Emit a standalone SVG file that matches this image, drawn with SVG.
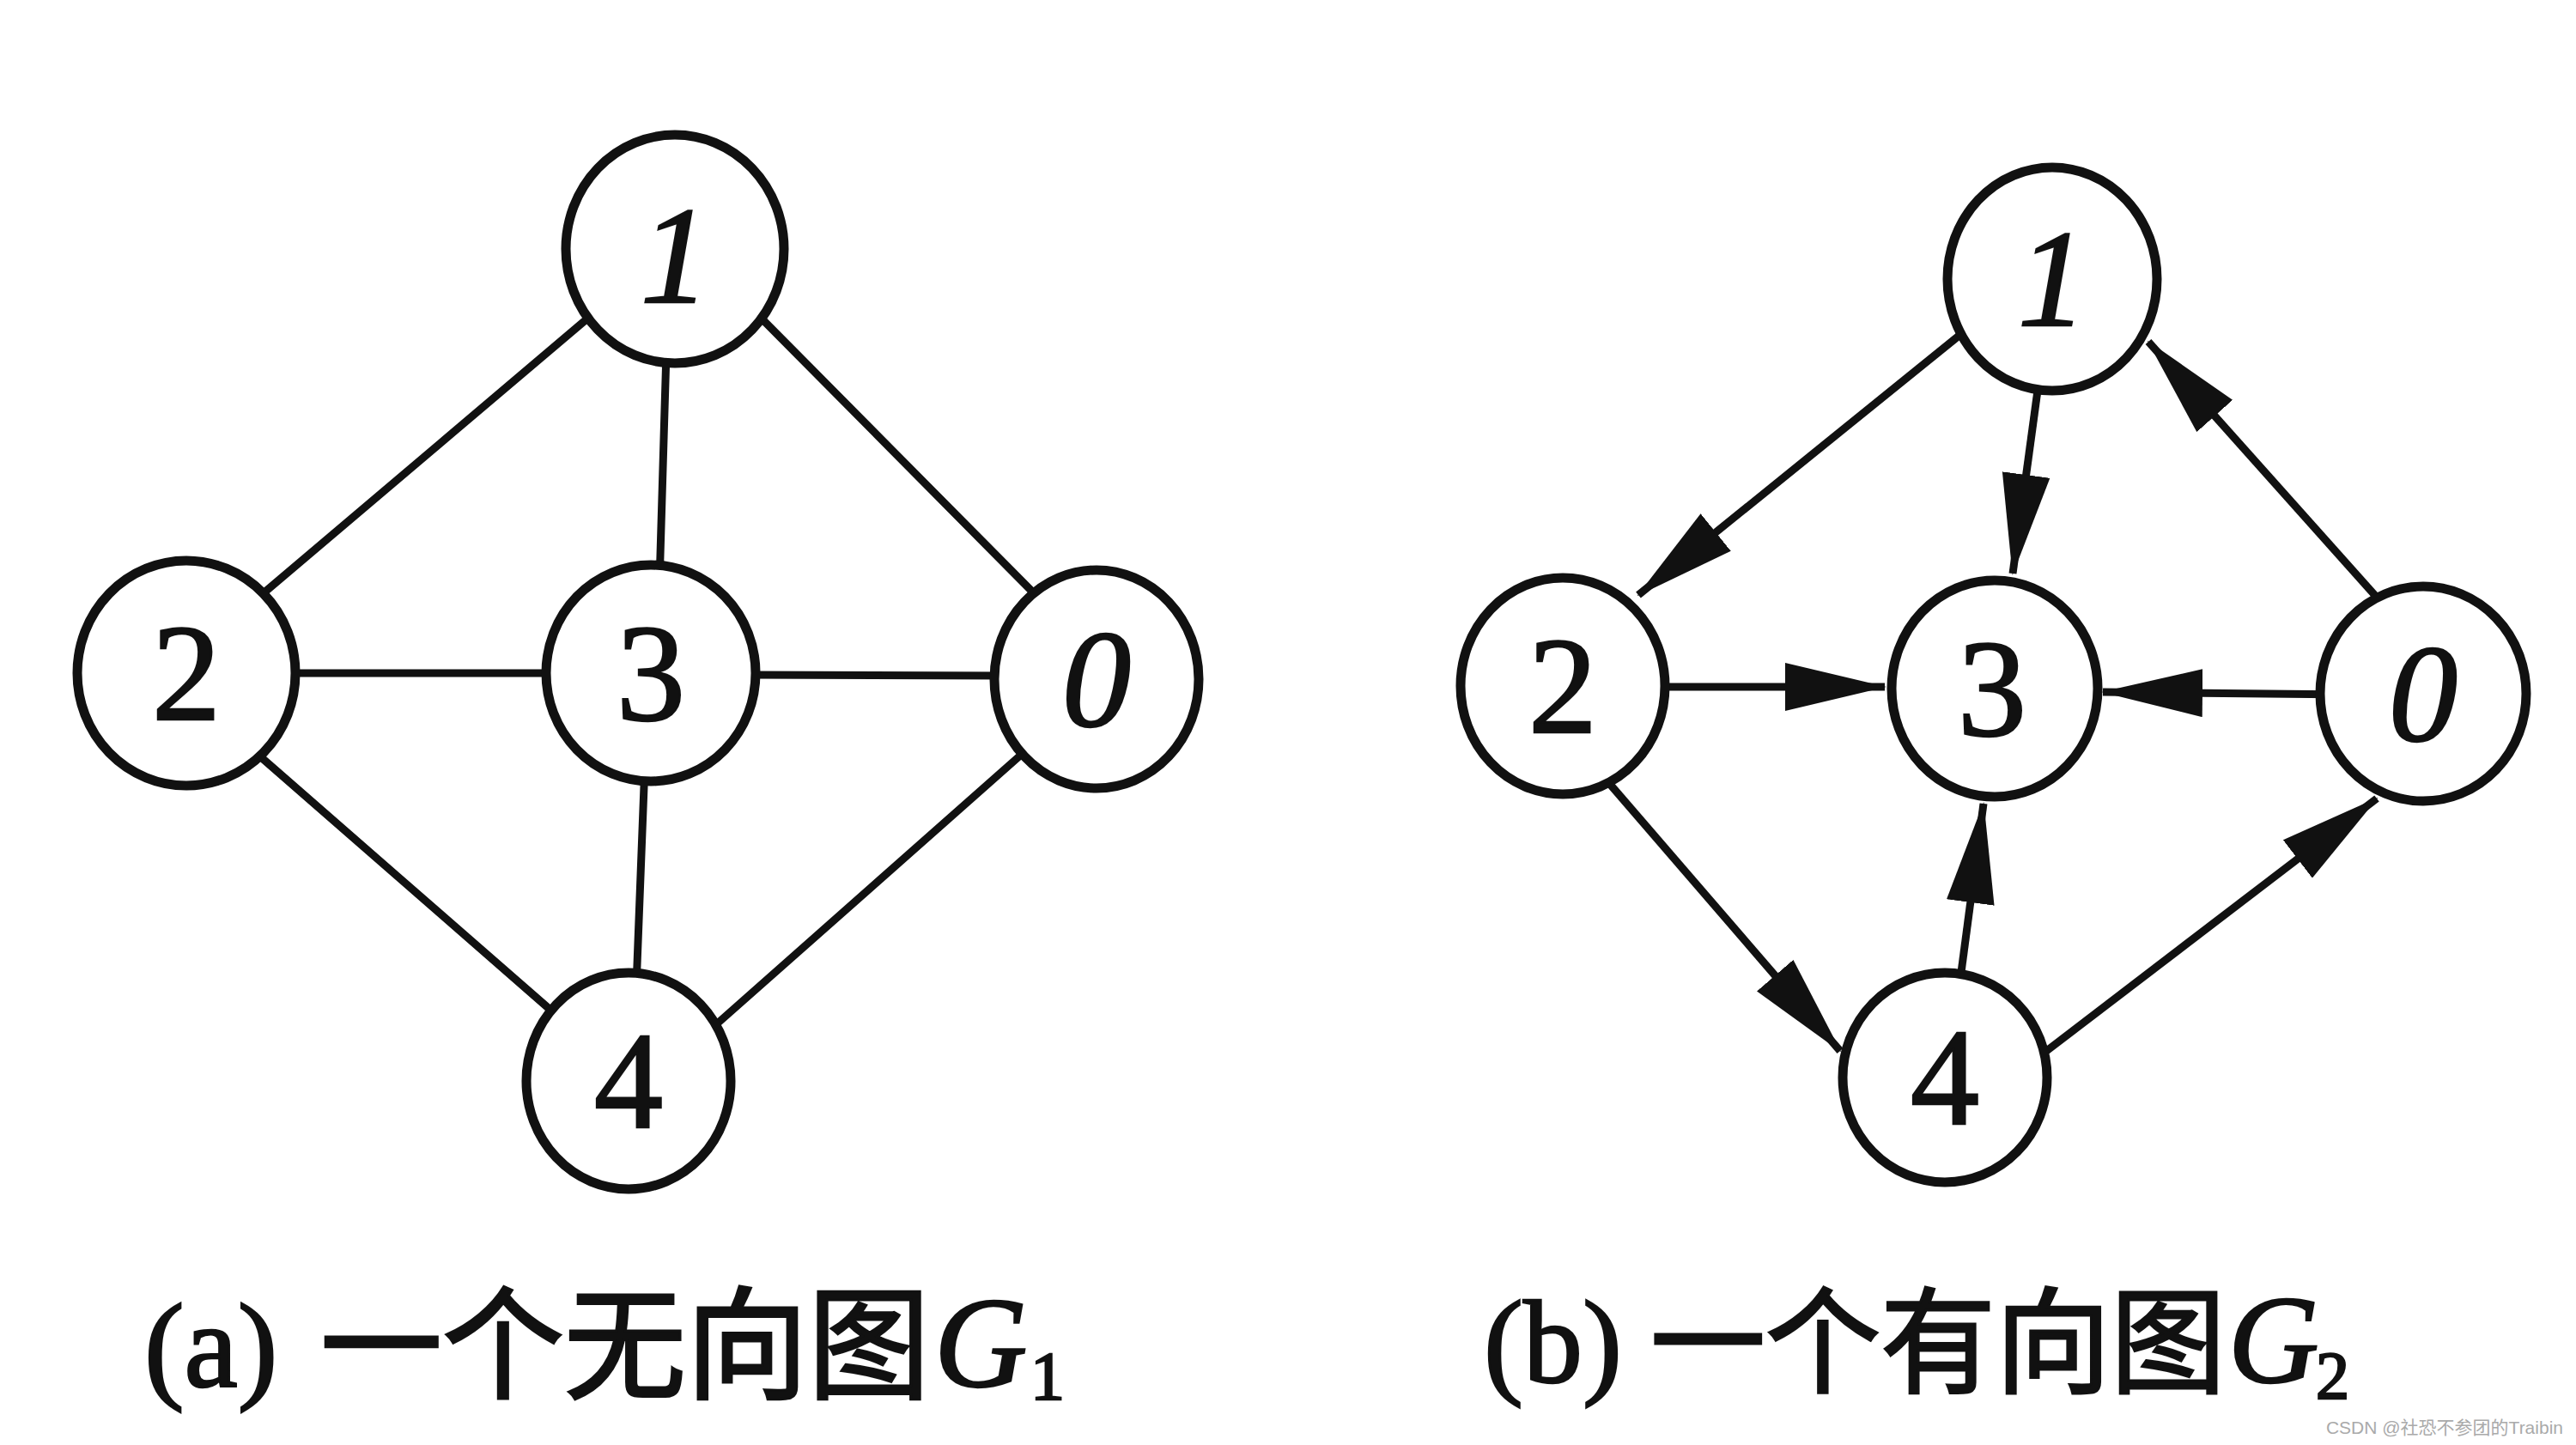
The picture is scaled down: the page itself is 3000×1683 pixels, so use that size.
<svg xmlns="http://www.w3.org/2000/svg" width="3000" height="1683" viewBox="0 0 3000 1683">
<style>
.edge{stroke:#111;stroke-width:9;fill:none;stroke-linecap:round}
.arc{stroke:#111;stroke-width:9;fill:none;marker-end:url(#ah)}
.node ellipse{fill:#fff;stroke:#111;stroke-width:11}
.num{font-family:"Liberation Serif","Times New Roman",serif;font-size:160px;fill:#111;stroke:#111;stroke-width:2.5;text-anchor:middle}
.it{font-style:italic}
.cap{font-family:"Liberation Serif","Times New Roman",serif;fill:#111;stroke:#111;stroke-width:2.5}
.cjk{font-family:"Noto Sans CJK SC","Noto Sans",sans-serif;fill:#111;stroke:#111;stroke-width:3}
</style>
<defs>
<marker id="ah" markerUnits="userSpaceOnUse" viewBox="0 0 118 56" markerWidth="118" markerHeight="56" refX="116" refY="28" orient="auto">
<path d="M0,0 L118,28 L0,56 Z" fill="#111"/>
</marker>
</defs>
<rect width="3000" height="1683" fill="#fff"/>

<g id="connectors-a">
<line class="edge" x1="690" y1="366" x2="296" y2="700"/>
<line class="edge" x1="776" y1="410" x2="768" y2="680"/>
<line class="edge" x1="880" y1="364" x2="1220" y2="707"/>
<line class="edge" x1="330" y1="784" x2="650" y2="784"/>
<line class="edge" x1="870" y1="786" x2="1170" y2="787"/>
<line class="edge" x1="296" y1="875" x2="650" y2="1184"/>
<line class="edge" x1="751" y1="890" x2="741" y2="1150"/>
<line class="edge" x1="1196" y1="873" x2="823" y2="1203"/>
</g>

<g id="connectors-b">
<line class="arc" x1="2290" y1="384" x2="1908" y2="693"/>
<line class="arc" x1="2375" y1="440" x2="2344" y2="668"/>
<line class="arc" x1="2770" y1="698" x2="2502" y2="398"/>
<line class="arc" x1="1900" y1="800" x2="2195" y2="800"/>
<line class="arc" x1="2740" y1="809" x2="2449" y2="806"/>
<line class="arc" x1="1860" y1="896" x2="2143" y2="1224"/>
<line class="arc" x1="2283" y1="1140" x2="2310" y2="936"/>
<line class="arc" x1="2369" y1="1235" x2="2768" y2="930"/>
</g>

<g id="a-node-1" class="node"><ellipse cx="786" cy="290" rx="127" ry="133"/><text class="num it" x="786" y="352">1</text></g>
<g id="a-node-2" class="node"><ellipse cx="217" cy="784" rx="127" ry="131"/><text class="num" x="217" y="838">2</text></g>
<g id="a-node-3" class="node"><ellipse cx="758" cy="784" rx="122" ry="126"/><text class="num" x="758" y="838">3</text></g>
<g id="a-node-0" class="node"><ellipse cx="1277" cy="791" rx="119" ry="127"/><text class="num it" x="1277" y="845">0</text></g>
<g id="a-node-4" class="node"><ellipse cx="732" cy="1259" rx="119" ry="126"/><text class="num" x="732" y="1313">4</text></g>

<g id="b-node-1" class="node"><ellipse cx="2390" cy="325" rx="122" ry="130"/><text class="num it" x="2390" y="379">1</text></g>
<g id="b-node-2" class="node"><ellipse cx="1820" cy="799" rx="119" ry="126"/><text class="num" x="1820" y="853">2</text></g>
<g id="b-node-3" class="node"><ellipse cx="2323" cy="802" rx="120" ry="126"/><text class="num" x="2320" y="856">3</text></g>
<g id="b-node-0" class="node"><ellipse cx="2822" cy="808" rx="120" ry="125"/><text class="num it" x="2822" y="862">0</text></g>
<g id="b-node-4" class="node"><ellipse cx="2265" cy="1255" rx="119" ry="122"/><text class="num" x="2265" y="1309">4</text></g>

<g id="caption-a">
<text class="cap" x="168" y="1615" font-size="140">(a)</text>
<text class="cjk" x="373" y="1618" font-size="142">一个无向图</text>
<text class="cap" x="1088" y="1615" font-size="150" font-style="italic">G</text>
<text class="cap" x="1200" y="1630" font-size="80">1</text>
</g>
<g id="caption-b">
<text class="cap" x="1728" y="1610" font-size="138">(b)</text>
<text class="cjk" x="1922" y="1612" font-size="134">一个有向图</text>
<text class="cap" x="2595" y="1610" font-size="146" font-style="italic">G</text>
<text class="cap" x="2697" y="1628" font-size="78">2</text>
</g>
<text x="2985" y="1670" font-family="'Liberation Sans','Noto Sans CJK SC',sans-serif" font-size="21" fill="#aaa" text-anchor="end">CSDN @社恐不参团的Traibin</text>
</svg>
